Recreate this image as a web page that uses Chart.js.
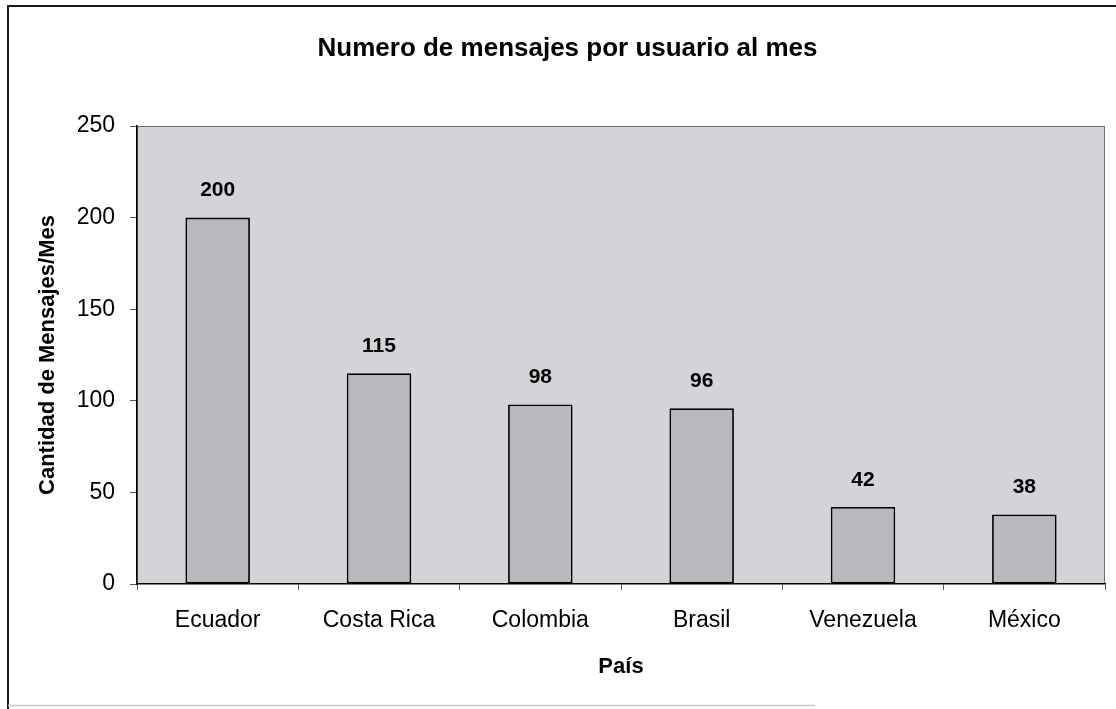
<!DOCTYPE html>
<html>
<head>
<meta charset="utf-8">
<script src="https://cdn.jsdelivr.net/npm/chart.js@4/dist/chart.umd.min.js"></script>
<style>
  html, body { margin: 0; padding: 0; background: #ffffff; }
  #wrap { width: 1116px; height: 709px; position: relative; }
</style>
</head>
<body>
<div id="wrap"><canvas id="c" width="1116" height="709"></canvas></div>
<script>
const categories = ['Ecuador', 'Costa Rica', 'Colombia', 'Brasil', 'Venezuela', 'México'];
const mensajes = [200, 115, 98, 96, 42, 38];
const yTicks = [0, 50, 100, 150, 200, 250];
const chartTitle = 'Numero de mensajes por usuario al mes';
const yTitle = 'Cantidad de Mensajes/Mes';
const xTitle = 'País';

const FONT = 'Arial, "Liberation Sans", sans-serif';

const framePlugin = {
  id: 'frame',
  beforeDraw(chart) {
    const ctx = chart.ctx;
    const a = chart.chartArea;
    ctx.save();
    ctx.fillStyle = '#ffffff';
    ctx.fillRect(0, 0, chart.width, chart.height);
    ctx.strokeStyle = '#1a1a1a';
    ctx.lineWidth = 2;
    ctx.beginPath();
    ctx.moveTo(8, 709);
    ctx.lineTo(8, 6);
    ctx.lineTo(1116, 6);
    ctx.stroke();
    ctx.strokeStyle = '#c8c8c8';
    ctx.lineWidth = 1.5;
    ctx.beginPath();
    ctx.moveTo(8, 705.5);
    ctx.lineTo(815, 705.5);
    ctx.stroke();
    ctx.fillStyle = '#d5d3d8';
    ctx.fillRect(a.left, a.top, a.right - a.left, a.bottom - a.top);
    ctx.strokeStyle = '#6e6e6e';
    ctx.lineWidth = 1;
    ctx.strokeRect(a.left + 0.5, a.top + 0.5, a.right - a.left - 1, a.bottom - a.top - 1);
    ctx.restore();
  }
};

const labelPlugin = {
  id: 'barLabels',
  afterDatasetsDraw(chart) {
    const ctx = chart.ctx;
    const meta = chart.getDatasetMeta(0);
    const data = chart.data.datasets[0].data;
    ctx.save();
    ctx.font = 'bold 21px ' + FONT;
    ctx.fillStyle = '#000000';
    ctx.textAlign = 'center';
    ctx.textBaseline = 'middle';
    meta.data.forEach((bar, i) => {
      ctx.fillText(String(data[i]), bar.x, bar.y - 27);
    });
    ctx.restore();
  }
};

new Chart(document.getElementById('c'), {
  type: 'bar',
  data: {
    labels: categories,
    datasets: [{
      data: mensajes,
      backgroundColor: '#b9b8bd',
      borderColor: '#000000',
      borderWidth: 1.8,
      borderSkipped: false,
      barPercentage: 0.4,
      categoryPercentage: 1.0
    }]
  },
  options: {
    responsive: false,
    animation: false,
    devicePixelRatio: 1,
    layout: { padding: { left: 30, right: 11, top: 0, bottom: 25 } },
    plugins: {
      legend: { display: false },
      tooltip: { enabled: false },
      title: {
        display: true,
        text: chartTitle,
        color: '#000000',
        font: { family: FONT, size: 26, weight: 'bold' },
        padding: { top: 33.4, bottom: 61.4 }
      }
    },
    scales: {
      x: {
        grid: { display: true, drawOnChartArea: false, drawTicks: true, tickLength: 6, color: '#555555', offset: true },
        border: { display: true, color: '#000000', width: 1.5 },
        ticks: { color: '#000000', font: { family: FONT, size: 23 }, padding: 17, maxRotation: 0 },
        title: { display: true, text: xTitle, color: '#000000', font: { family: FONT, size: 22, weight: 'bold' }, padding: { top: 0, bottom: 4 } },
        afterFit(s) { s.height = 100; }
      },
      y: {
        min: 0,
        max: 250,
        afterBuildTicks(s) { s.ticks = yTicks.map(v => ({ value: v })); },
        grid: { display: true, drawOnChartArea: false, drawTicks: true, tickLength: 7, color: '#555555' },
        border: { display: true, color: '#000000', width: 1.5 },
        ticks: { color: '#000000', font: { family: FONT, size: 23 }, padding: 15 },
        title: { display: true, text: yTitle, color: '#000000', font: { family: FONT, size: 22, weight: 'bold' }, padding: { top: 5, bottom: 0 } },
        afterFit(s) { s.width = 107; }
      }
    }
  },
  plugins: [framePlugin, labelPlugin]
});
</script>
</body>
</html>
